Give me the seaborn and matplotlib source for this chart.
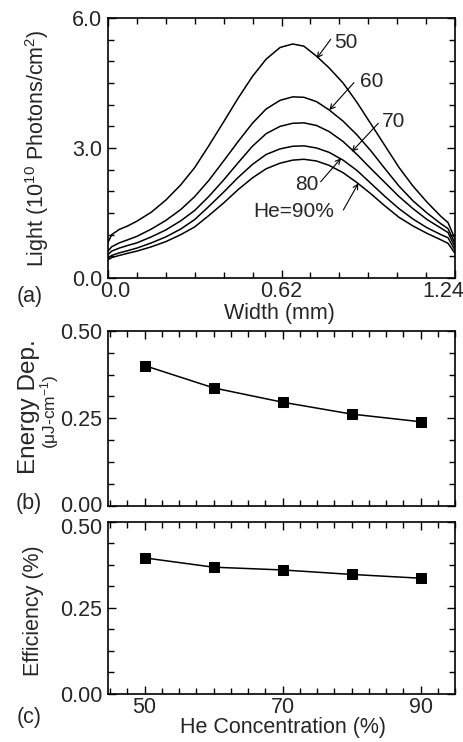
import numpy as np
import pandas as pd
import matplotlib
matplotlib.use("Agg")
import matplotlib.pyplot as plt
import matplotlib.transforms as mtransforms
from matplotlib.ticker import MultipleLocator, FixedLocator
import seaborn as sns

# ---------------- data ----------------
width_mm = [0.0, 0.013, 0.04, 0.07, 0.103, 0.155, 0.207, 0.26, 0.31, 0.36,
            0.413, 0.465, 0.516, 0.565, 0.615, 0.66, 0.70, 0.745, 0.79, 0.84,
            0.89, 0.94, 0.99, 1.04, 1.09, 1.14, 1.19, 1.215, 1.24]
light_50 = [0.82, 1.00, 1.12, 1.20, 1.31, 1.52, 1.80, 2.15, 2.55, 3.05,
            3.60, 4.15, 4.65, 5.05, 5.32, 5.40, 5.35, 5.12, 4.85, 4.50,
            4.05, 3.55, 3.05, 2.55, 2.12, 1.75, 1.42, 1.28, 0.90]
light_60 = [0.62, 0.72, 0.81, 0.88, 0.96, 1.13, 1.33, 1.58, 1.88, 2.25,
            2.70, 3.15, 3.57, 3.90, 4.10, 4.18, 4.17, 4.07, 3.88, 3.62,
            3.30, 2.93, 2.52, 2.12, 1.78, 1.50, 1.25, 1.14, 0.80]
light_70 = [0.54, 0.62, 0.69, 0.75, 0.81, 0.95, 1.11, 1.32, 1.56, 1.88,
            2.26, 2.66, 3.04, 3.33, 3.50, 3.57, 3.58, 3.52, 3.38, 3.15,
            2.85, 2.52, 2.20, 1.88, 1.60, 1.35, 1.15, 1.05, 0.72]
light_80 = [0.46, 0.52, 0.58, 0.63, 0.69, 0.81, 0.95, 1.13, 1.35, 1.65,
            1.98, 2.32, 2.62, 2.85, 2.98, 3.04, 3.05, 3.00, 2.90, 2.72,
            2.48, 2.18, 1.88, 1.60, 1.36, 1.16, 1.00, 0.93, 0.64]
light_90 = [0.42, 0.47, 0.52, 0.57, 0.62, 0.72, 0.84, 1.00, 1.18, 1.44,
            1.73, 2.04, 2.31, 2.52, 2.65, 2.72, 2.74, 2.70, 2.60, 2.43,
            2.20, 1.94, 1.66, 1.40, 1.20, 1.03, 0.88, 0.80, 0.57]
he_series = ["50", "60", "70", "80", "He=90%"]

he_conc = [50, 60, 70, 80, 90]
energy_dep = [0.401, 0.337, 0.296, 0.262, 0.240]
efficiency = [0.395, 0.368, 0.360, 0.347, 0.336]

# annotation placement (text position, arrow tail, arrow head) in data units
ann_text = [(0.850, 5.435), (0.942, 4.535), (1.020, 3.612), (0.709, 2.158), (0.665, 1.53)]
ann_tail = [(0.796, 5.51), (0.879, 4.51), (0.966, 3.57), (0.760, 2.222), (0.841, 1.569)]
ann_head = [(0.746, 5.07), (0.791, 3.877), (0.871, 2.915), (0.8326, 2.762), (0.8945, 2.185)]

# ---------------- style ----------------
sns.set_style("ticks")
plt.rcParams["font.family"] = ["Liberation Sans", "DejaVu Sans"]
plt.rcParams["mathtext.fontset"] = "custom"
plt.rcParams["mathtext.rm"] = "Liberation Sans"
plt.rcParams["mathtext.it"] = "Liberation Sans:italic"
plt.rcParams["mathtext.bf"] = "Liberation Sans:bold"
FS = 15.5

W, H = 463, 742
fig = plt.figure(figsize=(W / 100, H / 100), dpi=100)


def px_axes(left, top, right, bottom):
    return fig.add_axes([left / W, 1 - bottom / H, (right - left) / W, (bottom - top) / H])


axa = px_axes(108, 18, 455, 278)
axb = px_axes(108, 331, 455, 505.5)
axc = px_axes(108, 521.7, 455, 694)

# ---------------- panel (a) ----------------
series = [light_50, light_60, light_70, light_80, light_90]
df_a = pd.DataFrame({
    "width": np.tile(width_mm, len(series)),
    "light": np.concatenate(series),
    "he": np.repeat(he_series, len(width_mm)),
})
sns.lineplot(data=df_a, x="width", y="light", units="he", estimator=None,
             color="black", lw=1.1, sort=False, legend=False, ax=axa)
axa.set_xlim(0, 1.24)
axa.set_ylim(0, 6.0)
axa.set_xticks([0, 0.62, 1.24])
axa.set_xticklabels(["0.0", "0.62", "1.24"])
axa.xaxis.set_minor_locator(FixedLocator(np.arange(13) * 1.24 / 12))
axa.set_yticks([0, 3, 6])
axa.set_yticklabels(["0.0", "3.0", "6.0"])
axa.yaxis.set_minor_locator(MultipleLocator(0.5))

for lab, t, tail, head in zip(he_series, ann_text, ann_tail, ann_head):
    axa.annotate("", xy=head, xytext=tail,
                 arrowprops=dict(arrowstyle="->,head_length=0.35,head_width=0.18",
                                 lw=0.8, color="black", shrinkA=0, shrinkB=0))
    axa.text(t[0], t[1], lab, ha="center", va="center", fontsize=FS - 0.5)

# ---------------- panels (b), (c) ----------------
df_bc = pd.DataFrame({"he": he_conc, "energy": energy_dep, "eff": efficiency})
sns.lineplot(data=df_bc, x="he", y="energy", color="black", lw=1.1, marker="s",
             markersize=7.5, markeredgecolor="black", ax=axb)
sns.lineplot(data=df_bc, x="he", y="eff", color="black", lw=1.1, marker="s",
             markersize=7.5, markeredgecolor="black", ax=axc)
for ax in (axb, axc):
    ax.set_xlim(44.7, 95)
    ax.set_ylim(0, 0.5)
    ax.set_xticks([50, 70, 90])
    ax.set_xticklabels(["50", "70", "90"])
    ax.xaxis.set_minor_locator(MultipleLocator(2.5))
    ax.set_yticks([0, 0.25, 0.5])
    ax.set_yticklabels(["0.00", "0.25", "0.50"])
    ax.yaxis.set_minor_locator(MultipleLocator(0.0625))
axb.tick_params(axis="x", labelbottom=False)

for ax in (axa, axb, axc):
    for s in ax.spines.values():
        s.set_linewidth(1.2)
        s.set_color("black")
    ax.tick_params(which="both", direction="in", top=True, right=True,
                   color="black", labelsize=FS, width=1.0, pad=4)
    ax.tick_params(which="major", length=6)
    ax.tick_params(which="minor", length=4.5)
    ax.tick_params(axis="x", pad=2.5)
    ax.set_xlabel("")
    ax.set_ylabel("")


def shift(lab, dx_px, dy_px):
    lab.set_transform(lab.get_transform() +
                      mtransforms.ScaledTranslation(dx_px / 100, dy_px / 100, fig.dpi_scale_trans))


# shift the edge tick labels of panel (a) inward like the reference
for lab, dx in zip(axa.get_xticklabels(), [7, 0, -12]):
    shift(lab, dx, 0)
# keep the stacked y labels of (b) and (c) apart
shift(axb.get_yticklabels()[0], 0, 2)
shift(axc.get_yticklabels()[2], 0, -4)


# ---------------- labels ----------------
def ftext(x, y, s, **kw):
    fig.text(x / W, 1 - y / H, s, ha="center", va="center", fontsize=kw.pop("fontsize", FS), **kw)


ftext(37, 148, "Light (10$^{10}$ Photons/cm$^{2}$)", rotation=90)
ftext(279, 314, "Width (mm)")
ftext(30, 297, "(a)")
ftext(29, 407, "Energy Dep.", rotation=90, fontsize=17.5)
ftext(50, 412, "(μJ-cm$^{-1}$)", rotation=90, fontsize=12.5)
ftext(29, 504, "(b)")
ftext(34, 611, "Efficiency (%)", rotation=90)
ftext(283, 728, "He Concentration (%)")
ftext(29, 717, "(c)")

fig.savefig("out.png", dpi=100)
